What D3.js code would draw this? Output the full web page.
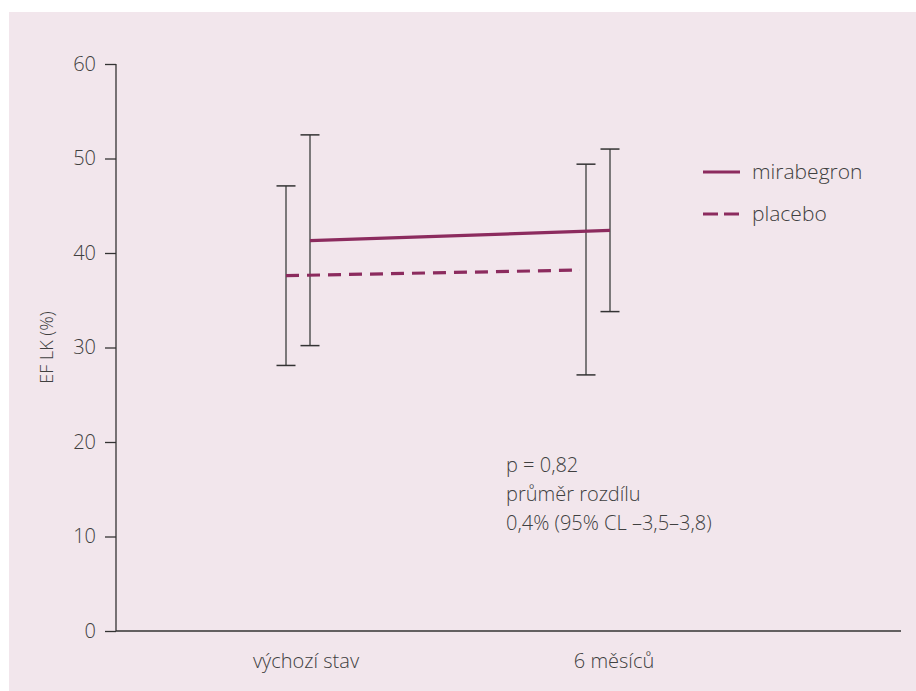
<!DOCTYPE html>
<html>
<head>
<meta charset="utf-8">
<script src="https://cdn.jsdelivr.net/npm/d3@7"></script>
<style>
  html, body { margin: 0; padding: 0; background: #fff; }
  text { font-family: "Open Sans", "Noto Sans", sans-serif; font-weight: 300; fill: #404040; }
</style>
</head>
<body>
<div id="chart"></div>
<script>
// data
const timepoints = ["výchozí stav", "6 měsíců"];
const series = ["mirabegron", "placebo"];
const mirabegronMean = [41.3, 42.4];
const mirabegronLow = [30.2, 33.8];
const mirabegronHigh = [52.5, 51.0];
const placeboMean = [37.6, 38.2];
const placeboLow = [28.1, 27.1];
const placeboHigh = [47.1, 49.4];
const yTicks = [0, 10, 20, 30, 40, 50, 60];
const noteLines = ["p = 0,82", "průměr rozdílu", "0,4% (95% CL –3,5–3,8)"];

const width = 916, height = 691;
const plum = "#8c2b5e";

const svg = d3.select("#chart").append("svg")
  .attr("width", width).attr("height", height);

svg.append("rect")
  .attr("x", 9).attr("y", 12)
  .attr("width", width - 9).attr("height", height - 12)
  .attr("fill", "#f2e6ec");

const x = d3.scalePoint().domain(timepoints).range([298, 598]);
const y = d3.scaleLinear().domain([0, 60]).range([631, 64]);
const offset = { mirabegron: 12, placebo: -12 };

// y axis
const yAxis = svg.append("g").attr("transform", "translate(116,0)")
  .call(d3.axisLeft(y).tickValues(yTicks).tickSize(11).tickPadding(9));
yAxis.select(".domain").remove();
yAxis.selectAll("line").attr("stroke", "#333").attr("stroke-width", 1.3);
yAxis.selectAll("text").style("font-size", "20px").attr("fill", "#404040")
  .style("font-family", "'Open Sans', sans-serif").style("font-weight", 300);

svg.append("line")
  .attr("x1", 116).attr("x2", 116).attr("y1", y(60)).attr("y2", y(0))
  .attr("stroke", "#333").attr("stroke-width", 1.3);
svg.append("line")
  .attr("x1", 116).attr("x2", 901).attr("y1", y(0)).attr("y2", y(0))
  .attr("stroke", "#333").attr("stroke-width", 1.3);

// x labels
svg.selectAll("text.xlab")
  .data(timepoints)
  .enter().append("text")
  .attr("class", "xlab")
  .attr("x", (d, i) => x(d) + (i === 0 ? 8 : 16))
  .attr("y", 668)
  .attr("text-anchor", "middle")
  .style("font-size", "20px")
  .text(d => d);

svg.append("text")
  .attr("transform", `translate(53,${y(30)}) rotate(-90)`)
  .attr("text-anchor", "middle")
  .style("font-size", "18px")
  .text("EF LK (%)");

const groups = [
  { name: "placebo", mean: placeboMean, low: placeboLow, high: placeboHigh, dash: "13,8" },
  { name: "mirabegron", mean: mirabegronMean, low: mirabegronLow, high: mirabegronHigh, dash: null }
];

// error bars
groups.forEach(g => {
  const bars = svg.append("g");
  timepoints.forEach((t, i) => {
    const cx = x(t) + offset[g.name];
    bars.append("line")
      .attr("x1", cx).attr("x2", cx).attr("y1", y(g.low[i])).attr("y2", y(g.high[i]))
      .attr("stroke", "#555").attr("stroke-width", 1.5);
    [g.low[i], g.high[i]].forEach(v => {
      bars.append("line")
        .attr("x1", cx - 9.5).attr("x2", cx + 9.5).attr("y1", y(v)).attr("y2", y(v))
        .attr("stroke", "#333").attr("stroke-width", 1.5);
    });
  });
});

// mean lines
const line = d3.line()
  .x(d => d.x)
  .y(d => y(d.v));

groups.forEach(g => {
  const pts = timepoints.map((t, i) => ({ x: x(t) + offset[g.name], v: g.mean[i] }));
  if (g.name === "placebo") pts[1].x -= 6;
  svg.append("path")
    .attr("d", line(pts))
    .attr("fill", "none")
    .attr("stroke", plum)
    .attr("stroke-width", 3.2)
    .attr("stroke-dasharray", g.dash);
});

// legend
const legend = svg.append("g").attr("transform", "translate(703,172)");
series.forEach((s, i) => {
  const row = legend.append("g").attr("transform", `translate(0,${i * 42})`);
  row.append("line")
    .attr("x1", 0).attr("x2", 37).attr("y1", 0).attr("y2", 0)
    .attr("stroke", plum).attr("stroke-width", 3.2)
    .attr("stroke-dasharray", s === "placebo" ? "15,6" : null);
  row.append("text")
    .attr("x", 49).attr("y", 0).attr("dy", "0.35em")
    .style("font-size", "21px")
    .text(s);
});

// annotation
svg.append("g").selectAll("text")
  .data(noteLines)
  .enter().append("text")
  .attr("x", 506)
  .attr("y", (d, i) => 472 + i * 29)
  .style("font-size", "20px")
  .text(d => d);
</script>
</body>
</html>
